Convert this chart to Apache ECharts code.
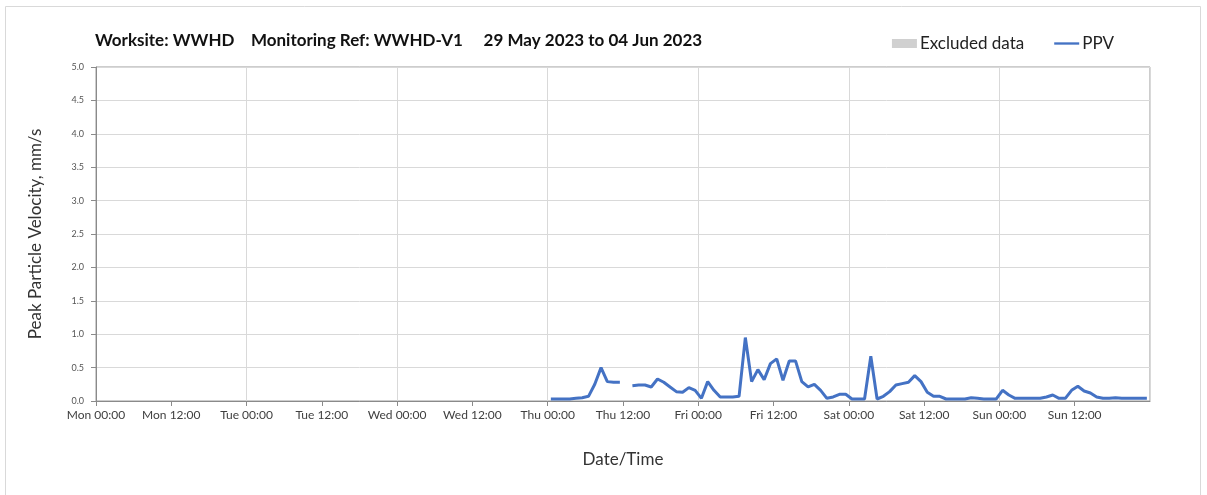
<!DOCTYPE html>
<html>
<head>
<meta charset="utf-8">
<script src="https://cdn.jsdelivr.net/npm/echarts@6/dist/echarts.min.js"></script>
<style>
html,body{margin:0;padding:0;background:#fff;}
#chart{width:1207px;height:495px;}
</style>
</head>
<body>
<div id="chart"></div>
<script>
// Hours since Mon 29 May 2023 00:00 (hourly readings plotted at half-hour)
const hours = [
  72.5,73.5,74.5,75.5,76.5,77.5,78.5,79.5,80.5,81.5,82.5,83.5,84.5,85.5,86.5,87.5,
  88.5,89.5,90.5,91.5,92.5,93.5,94.5,95.5,96.5,97.5,98.5,99.5,100.5,101.5,102.5,103.5,
  104.5,105.5,106.5,107.5,108.5,109.5,110.5,111.5,112.5,113.5,114.5,115.5,116.5,117.5,118.5,119.5,
  120.5,121.5,122.5,123.5,124.5,125.5,126.5,127.5,128.5,129.5,130.5,131.5,132.5,133.5,134.5,135.5,
  136.5,137.5,138.5,139.5,140.5,141.5,142.5,143.5,144.5,145.5,146.5,147.5,148.5,149.5,150.5,151.5,
  152.5,153.5,154.5,155.5,156.5,157.5,158.5,159.5,160.5,161.5,162.5,163.5,164.5,165.5,166.5,167.5
];
const ppv = [
  0.03,0.03,0.03,0.03,0.04,0.05,0.07,0.25,0.50,0.29,0.28,0.28,null,0.23,0.24,0.24,
  0.21,0.33,0.28,0.21,0.14,0.13,0.20,0.16,0.04,0.29,0.16,0.06,0.06,0.06,0.07,0.95,
  0.29,0.47,0.32,0.56,0.63,0.31,0.60,0.60,0.29,0.21,0.25,0.16,0.04,0.06,0.10,0.10,
  0.03,0.03,0.03,0.67,0.03,0.07,0.14,0.24,0.26,0.28,0.38,0.29,0.13,0.07,0.07,0.03,
  0.03,0.03,0.03,0.05,0.04,0.03,0.03,0.03,0.16,0.09,0.04,0.04,0.04,0.04,0.04,0.06,
  0.09,0.04,0.04,0.16,0.22,0.15,0.12,0.06,0.04,0.04,0.05,0.04,0.04,0.04,0.04,0.04
];
const excludedData = [];
const dayNames = ['Mon','Tue','Wed','Thu','Fri','Sat','Sun'];
const titleText = 'Worksite: WWHD    Monitoring Ref: WWHD-V1     29 May 2023 to 04 Jun 2023';

const ppvSeries = hours.map((h, i) => [h, ppv[i]]);

const chart = echarts.init(document.getElementById('chart'));
const FONT = 'Lato, "Open Sans", sans-serif';
chart.setOption({
  animation: false,
  textStyle: { fontFamily: FONT },
  graphic: [{
    type: 'rect', silent: true, z: -10,
    shape: { x: 5.5, y: 6.5, width: 1195, height: 500 },
    style: { fill: 'none', stroke: '#d9d9d9', lineWidth: 1 }
  }],
  title: {
    text: titleText,
    left: 90, top: 27,
    textStyle: { fontSize: 17, fontWeight: 'bold', color: '#111', fontFamily: FONT }
  },
  legend: {
    right: 88, top: 30,
    itemGap: 30, itemWidth: 25, itemHeight: 9,
    textStyle: { fontSize: 17, color: '#222', fontFamily: FONT, padding: [0,0,0,-2] },
    data: [
      { name: 'Excluded data', icon: 'rect', itemStyle: { color: '#d0d0d0' } },
      { name: 'PPV', icon: 'path://M0,0L0,0M0,4L30,4L30,6.8L0,6.8ZM0,10.8L0,10.8', itemStyle: { color: '#4472C4' } }
    ]
  },
  grid: { left: 96, right: 57, top: 67, bottom: 94, show: true, borderColor: '#9a9a9a', borderWidth: 1 },
  xAxis: [{
    type: 'value', min: 0, max: 168, interval: 12,
    name: 'Date/Time', nameLocation: 'middle', nameGap: 50,
    nameTextStyle: { fontSize: 17, color: '#333', fontFamily: FONT },
    axisLine: { show: true, onZero: false, lineStyle: { color: '#8a8a8a', width: 1 } },
    axisTick: { show: true, length: 5, lineStyle: { color: '#8a8a8a' } },
    axisLabel: {
      fontSize: 12, color: '#404040', margin: 8, showMaxLabel: false,
      formatter: v => {
        if (v >= 168) return '';
        const d = Math.floor(v / 24), hh = v % 24;
        return dayNames[d] + ' ' + String(hh).padStart(2, '0') + ':00';
      }
    },
    splitLine: { show: false }
  }, {
    type: 'value', min: 0, max: 168, interval: 24, position: 'bottom',
    axisLine: { show: false }, axisTick: { show: false }, axisLabel: { show: false },
    splitLine: { show: true, lineStyle: { color: '#d9d9d9', width: 1 } }
  }],
  yAxis: {
    type: 'value', min: 0, max: 5, interval: 0.5,
    name: 'Peak Particle Velocity, mm/s', nameLocation: 'middle', nameGap: 52,
    nameTextStyle: { fontSize: 17, color: '#333', fontFamily: FONT },
    axisLine: { show: true, lineStyle: { color: '#8a8a8a', width: 1 } },
    axisTick: { show: true, length: 5, lineStyle: { color: '#8a8a8a' } },
    axisLabel: { fontSize: 9, color: '#555', margin: 12, formatter: v => v.toFixed(1) },
    splitLine: { show: true, lineStyle: { color: '#d9d9d9', width: 1 } }
  },
  series: [{
    name: 'Excluded data', type: 'bar', data: excludedData,
    itemStyle: { color: '#d0d0d0' }
  }, {
    name: 'PPV', type: 'line', data: ppvSeries, xAxisIndex: 0,
    showSymbol: false, connectNulls: false,
    lineStyle: { color: '#4472C4', width: 3 },
    itemStyle: { color: '#4472C4' }
  }]
});
</script>
</body>
</html>
